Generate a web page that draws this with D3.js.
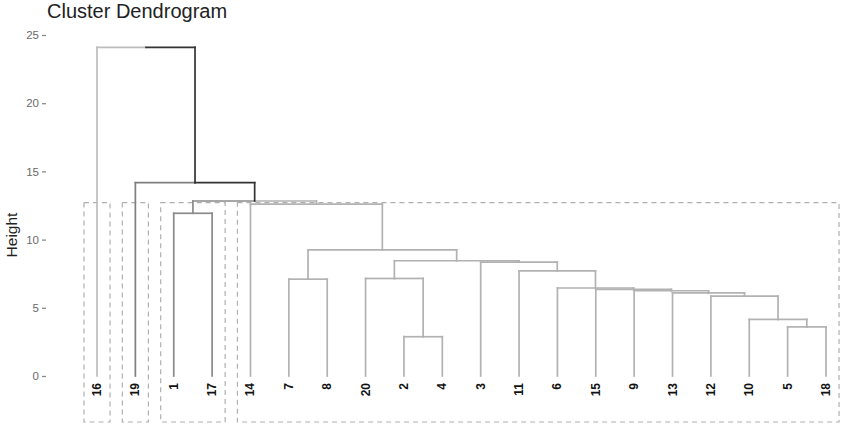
<!DOCTYPE html>
<html>
<head>
<meta charset="utf-8">
<script src="https://cdn.jsdelivr.net/npm/d3@7"></script>
<style>
  body { margin: 0; background: #fff; }
  svg { display: block; font-family: "Liberation Sans", Arial, sans-serif; }
</style>
</head>
<body>
<svg id="chart"></svg>
<script>
// leaf order along the x axis
const leafOrder = ["16", "19", "1", "17", "14", "7", "8", "20", "2", "4",
                   "3", "11", "6", "15", "9", "13", "12", "10", "5", "18"];

// hclust style merges: negative = leaf label, positive = earlier merge row (1-based)
const merges = [
  [-2, -4], [-5, -18], [-10, 2], [-12, 3], [-13, 4], [-9, 5], [-15, 6],
  [-6, 7], [-7, -8], [-20, 1], [-11, 8], [-3, 11], [10, 12], [9, 13],
  [-1, -17], [-14, 14], [15, 16], [-19, 17], [-16, 18]
];
const heights = [2.88, 3.6, 4.15, 5.85, 6.1, 6.25, 6.35, 6.45, 7.1, 7.15,
                 7.7, 8.35, 8.45, 9.25, 11.93, 12.6, 12.83, 14.17, 24.1];

const yTicks = [0, 5, 10, 15, 20, 25];
const k = 4;
const clusterGrays = ["#bdbdbd", "#7f7f7f", "#8a8a8a", "#b2b2b2"];
const topColor = "#333333";

const width = 848;
const height = 432;

const x = d3.scalePoint().domain(leafOrder).range([97, 826]);
const y = d3.scaleLinear().domain([0, 25]).range([376, 35]);

const svg = d3.select("#chart").attr("width", width).attr("height", height);

// helpers on the tree
const nodeH = id => id < 0 ? 0 : heights[id - 1];
const nodeX = id => {
  if (id < 0) return x(String(-id));
  const [a, b] = merges[id - 1];
  return (nodeX(a) + nodeX(b)) / 2;
};
const leavesOf = id => id < 0 ? [String(-id)] : merges[id - 1].flatMap(leavesOf);
const aboveCut = id => id > 0 && id > merges.length - (k - 1);

// cluster roots: children of above-cut merges that are not above the cut
const rootId = merges.length;
const clusterRoots = [];
(function walk(id) {
  if (aboveCut(id)) merges[id - 1].forEach(walk);
  else clusterRoots.push(id);
})(rootId);
clusterRoots.sort((a, b) => nodeX(a) - nodeX(b));

const colorOf = new Map();
clusterRoots.forEach((r, i) => {
  (function paint(id) {
    colorOf.set(id, clusterGrays[i]);
    if (id > 0) merges[id - 1].forEach(paint);
  })(r);
});
const branchColor = id => aboveCut(id) ? topColor : colorOf.get(id);

// segments: each child gets an elbow from the parent
const segs = [];
merges.forEach((pair, i) => {
  const id = i + 1;
  const px = nodeX(id), ph = nodeH(id);
  pair.forEach(c => {
    const cx = nodeX(c), ch = nodeH(c), col = branchColor(c);
    segs.push({x1: px, y1: ph, x2: cx, y2: ph, col});
    segs.push({x1: cx, y1: ph, x2: cx, y2: ch, col});
  });
});

// dashed cluster rectangles
const cutH = (heights[merges.length - k] + heights[merges.length - k + 1]) / 2;
const pad = x.step() * 0.34;
svg.append("g")
  .selectAll("rect")
  .data(clusterRoots)
  .join("rect")
    .attr("x", d => d3.min(leavesOf(d), l => x(l)) - pad)
    .attr("y", y(cutH))
    .attr("width", d => d3.max(leavesOf(d), l => x(l)) - d3.min(leavesOf(d), l => x(l)) + 2 * pad)
    .attr("height", d => y(0) + 46 - y(cutH))
    .attr("fill", "none")
    .attr("stroke", "#b0b0b0")
    .attr("stroke-width", 1.2)
    .attr("stroke-dasharray", "5,4");

svg.append("g")
  .attr("stroke-linecap", "square")
  .selectAll("line")
  .data(segs)
  .join("line")
    .attr("x1", d => d.x1)
    .attr("x2", d => d.x2)
    .attr("y1", d => y(d.y1))
    .attr("y2", d => y(d.y2))
    .attr("stroke", d => d.col)
    .attr("stroke-width", 1.7);

// leaf labels
svg.append("g")
  .selectAll("text")
  .data(leafOrder)
  .join("text")
    .attr("transform", d => `translate(${x(d)},${y(0) + 7}) rotate(-90)`)
    .attr("text-anchor", "end")
    .attr("dominant-baseline", "central")
    .attr("font-size", 12)
    .attr("font-weight", "bold")
    .attr("fill", "#111")
    .text(d => d);

// y axis
const yAxis = svg.append("g")
  .attr("transform", "translate(46,0)")
  .call(d3.axisLeft(y).tickValues(yTicks).tickSize(4).tickPadding(3));
yAxis.select(".domain").remove();
yAxis.selectAll(".tick line").attr("stroke", "#8a8a8a").attr("stroke-width", 1.3);
yAxis.selectAll(".tick text")
  .attr("fill", "#6a6a6a")
  .attr("font-size", 11.5)
  .attr("font-family", "Liberation Sans, Arial, sans-serif");

svg.append("text")
  .attr("transform", "translate(11,235) rotate(-90)")
  .attr("text-anchor", "middle")
  .attr("dominant-baseline", "central")
  .attr("font-size", 15.5)
  .attr("fill", "#222")
  .text("Height");

svg.append("text")
  .attr("x", 47)
  .attr("y", 18)
  .attr("font-size", 20)
  .attr("fill", "#222")
  .text("Cluster Dendrogram");
</script>
</body>
</html>
